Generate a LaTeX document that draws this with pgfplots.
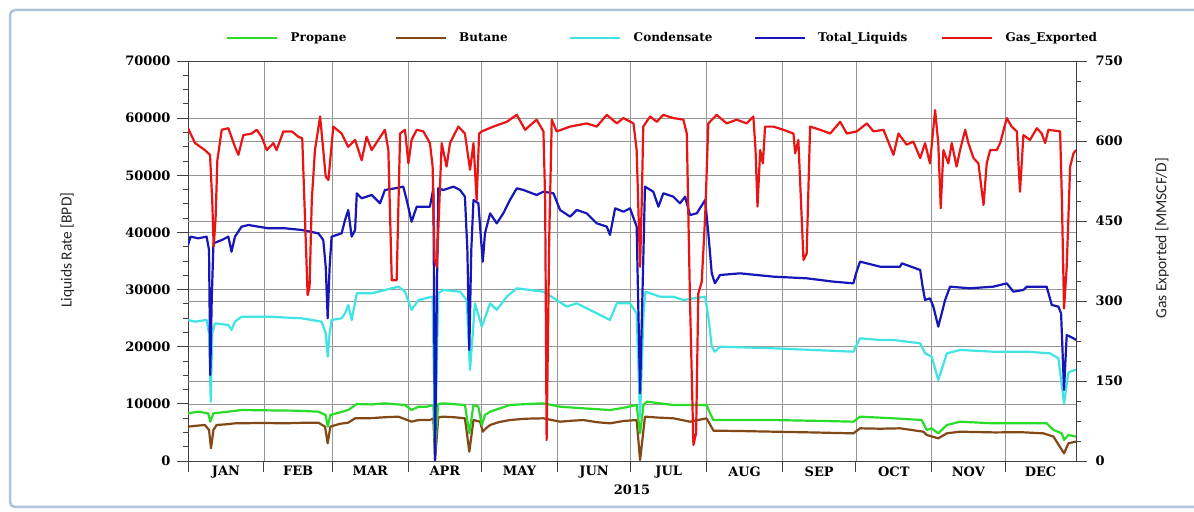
\documentclass[border=0pt]{standalone}
\usepackage{fontspec}
\usepackage{pgfplots}
\pgfplotsset{compat=1.18}
\newfontfamily\dvs{DejaVu Serif}
\newfontfamily\carl{Carlito}
\definecolor{cProp}{RGB}{40,220,40}
\definecolor{cBut}{RGB}{130,72,22}
\definecolor{cCond}{RGB}{64,228,228}
\definecolor{cTot}{RGB}{22,22,185}
\definecolor{cGas}{RGB}{235,20,20}
\definecolor{cFrame}{RGB}{175,195,218}
\definecolor{cGrid}{RGB}{150,150,150}
\newcommand\tickfont{\dvs\bfseries\fontsize{13bp}{15bp}\selectfont}
\newcommand\legfont{\dvs\bfseries\fontsize{12bp}{14bp}\selectfont}
\newcommand\labfont{\carl\fontsize{15.5bp}{18bp}\selectfont}
\begin{document}
\begin{tikzpicture}
\path[use as bounding box] (0,0) rectangle (1194bp,512bp);
\draw[cFrame, line width=2.5bp, rounded corners=5bp, fill=white] (10bp,5bp) rectangle (1215bp,502bp);
\pgfplotsset{
 base/.style={
  at={(188bp,51bp)}, anchor=south west,
  width=888bp, height=400bp, scale only axis,
  xmin=0, xmax=363,
  scaled ticks=false,
  /pgf/number format/assume math mode=true,
  /pgf/number format/1000 sep={},
  tick label style={font=\tickfont, black},
  tick align=outside,
  major tick length=11bp, minor tick length=5bp,
  grid style={cGrid, line width=0.6bp},
  axis line style={line width=0.8bp, black!75},
  every tick/.style={black!75, line width=0.8bp},
  every axis plot/.append style={line width=2.2bp, line join=round, mark=none},
 }
}
\begin{axis}[base,
  ymin=0, ymax=70000, ytick={0,10000,...,70000}, minor y tick num=3,
  ytick pos=left, xtick pos=bottom,
  xtick={0,31,59,90,120,151,181,212,243,273,304,334},
  xticklabels={},
  extra x ticks={15.5,45,74.5,105,135.5,166,196.5,227.5,258,288.5,319,348.5},
  extra x tick labels={JAN,FEB,MAR,APR,MAY,JUN,JUL,AUG,SEP,OCT,NOV,DEC},
  extra x tick style={major tick length=0pt, grid=none},
  extra y ticks={14000,28000,42000,56000},
  extra y tick labels={},
  extra y tick style={major tick length=0pt, grid=major, minor tick num=0},
  xticklabel style={yshift=-2bp},
  yticklabel style={xshift=-3bp},
  xmajorgrids, ymajorgrids,
  xlabel={2015}, xlabel style={font=\tickfont, at={(axis description cs:0.5,-0.0725)}, anchor=center},
  ylabel={Liquids Rate [BPD]}, ylabel style={font=\labfont, black!85, at={(axis description cs:-0.136,0.527)}, anchor=center},
]
\addplot[cBut] coordinates {(0,6010)(3,6150)(6.9,6300)(8.6,5430)(9.4,2220)(10.4,5430)(11.7,6300)(15,6400)(19.2,6590)(30,6650)(40,6600)(48,6700)(53.3,6710)(56,6010)(57.1,3100)(58.2,6010)(62,6500)(65.5,6710)(68.3,7470)(75,7500)(80,7650)(86,7760)(91.4,6880)(94.2,7170)(98.9,7170)(100.3,7470)(101,175)(102.3,7640)(104.4,7760)(109,7650)(113.2,7470)(115,1640)(116.7,7170)(119.4,6880)(120.5,5130)(121.8,5720)(123.5,6300)(127,6800)(131.6,7170)(138,7400)(145.3,7470)(152.1,6880)(157,7050)(161.6,7170)(167,6800)(172.5,6590)(178,7000)(183.4,7170)(184.8,175)(186.8,7760)(192,7600)(198.4,7470)(205.2,6880)(212,7470)(214.8,5310)(225,5250)(239.3,5130)(255,5000)(272,4840)(274.7,5720)(283,5650)(291.1,5720)(300.6,5130)(302,4550)(306.7,3970)(310.2,4840)(315.6,5130)(330,5000)(340,5050)(349.7,4840)(353.8,4260)(358.1,1340)(359.9,3100)(363,3390)};
\addplot[cProp] coordinates {(0,8340)(4.2,8630)(8.3,8340)(9.1,6880)(10.4,8340)(16.5,8630)(21.9,8920)(35,8850)(45,8800)(53.3,8630)(56.3,8050)(57.1,6010)(58.2,8050)(65.5,8920)(69,9970)(75,9900)(80.5,10090)(88.7,9800)(91.4,8920)(94.2,9500)(97.6,9500)(100.3,9800)(101,2510)(102.3,9970)(104.4,10090)(113.2,9800)(115,4840)(116.7,9800)(118.7,9500)(120.1,6300)(121.4,8050)(123.5,8630)(131.6,9800)(138.5,9970)(145.3,10090)(152.1,9500)(161.6,9220)(172.5,8920)(178,9300)(183.4,9800)(184.8,4840)(186.2,9800)(187.5,10380)(198.4,9800)(212,9800)(213.4,8340)(214.8,7170)(239.3,7170)(260,7000)(272,6880)(274.7,7760)(288.4,7470)(299.9,7170)(302,5430)(304,5720)(306.7,4840)(310.2,6300)(315.6,6880)(329.2,6590)(351,6590)(353.8,5430)(357.2,4840)(358.1,3680)(359.9,4550)(363,4260)};
\addplot[cCond] coordinates {(0,24680)(2.9,24390)(7.6,24680)(8.6,22340)(9.3,10380)(9.9,22340)(11,24090)(16.5,23800)(17.8,22930)(19.2,24390)(21.9,25260)(32.8,25260)(46.5,24970)(54.6,24390)(56.3,22340)(57.1,18260)(57.9,22340)(58.7,24680)(62.8,24970)(64.2,25840)(65.5,27300)(66.9,24680)(69,29340)(75.1,29340)(80.5,29930)(86,30510)(88.7,29630)(91.4,26430)(94.2,28180)(100,28760)(101,1340)(102.3,29340)(104.4,29930)(111.2,29630)(113.9,28180)(115.3,15930)(117.3,27590)(120.1,23510)(123.5,27590)(126.2,26430)(130.3,28760)(134.4,30220)(145.3,29630)(150.7,28180)(154.8,27010)(158.9,27590)(167.1,25840)(172.5,24680)(175.3,27590)(180.7,27590)(183.4,25840)(184.8,7760)(186.2,25840)(187,29630)(193,28760)(198.4,28760)(202.5,28180)(211.4,28760)(212.7,25260)(214.1,20010)(215.4,19130)(217.5,20010)(239.3,19720)(272,19130)(274.7,21470)(282.9,21180)(288.4,21180)(299.3,20600)(301.3,18840)(304,18260)(306.7,14180)(310.2,18840)(315.6,19430)(329.2,19130)(342.9,19130)(352.4,18840)(355.8,17970)(358.1,10090)(359.9,15500)(363,16000)};
\addplot[cTot] coordinates {(0,37800)(1,39260)(4.2,38970)(7.6,39260)(8.6,36930)(9.1,15050)(9.7,28180)(10.4,38090)(13.8,38670)(16.5,39260)(17.8,36630)(19.2,39260)(21.9,41010)(24.7,41300)(32.8,40720)(39.7,40720)(46.5,40430)(53.3,39840)(55.3,38670)(56.3,34010)(57.1,24970)(57.9,34010)(58.7,39260)(62.8,39840)(64.2,42180)(65.5,43930)(66.9,39260)(68.3,40430)(69,46840)(71,45970)(75.1,46550)(78.5,45090)(80.5,47430)(84.6,47720)(88,48010)(89.4,45680)(91.4,41880)(93.5,44510)(98.9,44510)(100.3,47720)(101,175)(101.7,28180)(102.3,47720)(104.4,47430)(108.5,48010)(111.2,47430)(113.2,46260)(114.2,36930)(115,19430)(115.8,36930)(116.7,45680)(118.7,45090)(119.6,39840)(120.5,34880)(121.4,39840)(123.5,43340)(126.2,41590)(128.9,43340)(131.6,45680)(134.4,47720)(137.1,47430)(142.5,46550)(145.3,47130)(149.4,46840)(152.1,43930)(156.2,42760)(158.9,43930)(163,43340)(167.1,41590)(171.2,41010)(172.5,39550)(174.6,44220)(178,43630)(180.7,44220)(183.4,41010)(184.8,11840)(186.2,36930)(186.8,48010)(190.2,47130)(192.3,44510)(194.3,46840)(198.4,46260)(201.1,45090)(203.2,46260)(205.2,43050)(208,43340)(211.4,45680)(212.7,39840)(214.1,32840)(215.4,31090)(217.5,32550)(225.7,32840)(232.5,32550)(239.3,32260)(252.9,31970)(263.8,31390)(272,31090)(273.1,32840)(274.7,34880)(282.9,34010)(291.1,34010)(291.8,34590)(299.3,33430)(300.3,30510)(301.3,28180)(303.3,28470)(304.7,27010)(306.7,23510)(309.5,28180)(311.5,30510)(319.7,30220)(329.2,30510)(334.7,31090)(337.4,29630)(341.5,29930)(342.9,30510)(351,30510)(353.1,27300)(355.8,27010)(356.9,25840)(358.1,12430)(359.2,22050)(362,21470)(363,21180)};
\end{axis}
\begin{axis}[base,
  ymin=0, ymax=750, ytick={0,150,...,750}, minor y tick num=3,
  axis y line*=right, axis x line=none,
  yticklabel style={xshift=5bp},
  ylabel={Gas Exported [MMSCF/D]}, ylabel style={font=\labfont, black!85, at={(axis description cs:1.0968,0.557)}, anchor=center},
  legend columns=5,
  legend style={at={(axis description cs:0.0428,1.0575)}, anchor=west, draw=none, fill=none, inner sep=0pt, font=\legfont,
    nodes={inner sep=0pt, anchor=west},
    /tikz/every odd column/.append style={column sep=12bp}},
  legend image code/.code={\draw[#1, line width=2.5bp] (0bp,0bp) -- (50bp,0bp);},
]
\addlegendimage{cProp}\addlegendentry{\makebox[104bp][l]{Propane}}
\addlegendimage{cBut}\addlegendentry{\makebox[110bp][l]{Butane}}
\addlegendimage{cCond}\addlegendentry{\makebox[120bp][l]{Condensate}}
\addlegendimage{cTot}\addlegendentry{\makebox[123bp][l]{Total\_Liquids}}
\addplot[cGas] coordinates {(0,624)(2.9,596)(6.9,583)(9,574)(9.9,489)(10.5,402)(11.3,458)(12,564)(13.8,621)(16.5,624)(19.2,589)(20.6,574)(22.6,611)(26,614)(28.1,621)(30.1,608)(32.2,583)(34.9,596)(36.2,583)(39,618)(42.4,618)(45.1,608)(46.7,605)(47.8,458)(48.9,311)(49.7,327)(50.6,489)(51.9,583)(54,646)(55.3,583)(56.3,533)(57.4,527)(59.4,627)(62.8,614)(65.5,589)(68.3,602)(71,564)(73,608)(75.1,583)(77.8,602)(80.5,621)(81.9,583)(83.3,339)(85.3,339)(86.7,614)(88.7,621)(90.1,558)(91.4,602)(93.5,621)(96.2,618)(98.9,596)(100,552)(100.8,377)(101.7,364)(102.8,489)(103.7,596)(105.7,552)(107.1,596)(110.5,627)(113.2,614)(115.3,546)(116.7,596)(118,489)(119,614)(120.1,618)(124.8,627)(130.3,636)(134.4,649)(137.8,621)(142.5,640)(145.3,618)(146,489)(146.6,39)(147.7,427)(148.7,640)(150.7,618)(156.2,627)(163,633)(167.1,627)(171.2,649)(175.3,633)(178,643)(182.1,633)(183.4,583)(184.8,364)(185.5,489)(186.1,627)(188.9,646)(191.6,636)(194.3,649)(198.4,643)(202.5,640)(203.9,614)(205.2,302)(206.6,30)(207.7,52)(208.6,314)(210,336)(211.4,458)(212.7,633)(216.1,649)(220.2,633)(224.3,640)(228.4,633)(231.1,646)(232,583)(232.8,477)(233.9,583)(235,558)(235.9,627)(239.3,627)(243.4,621)(247.5,614)(248.2,577)(249.5,602)(251.6,377)(252.9,389)(254.3,627)(258.4,621)(262.5,614)(266.6,636)(269.3,614)(273.4,618)(277.5,633)(280.2,618)(284.3,621)(288.4,574)(290.4,614)(293.8,593)(296.5,599)(299.3,568)(301.3,596)(303.3,558)(305.4,658)(306.7,596)(307.7,474)(308.8,583)(310.8,558)(312.2,596)(314.2,552)(315.6,583)(317.7,621)(319,596)(321.1,568)(323.1,558)(325.2,480)(326.5,558)(327.9,583)(330.6,583)(332,596)(334.7,643)(336.7,627)(338.8,618)(340.1,505)(341.5,611)(344.2,602)(347,624)(349,614)(350.4,596)(351.7,621)(356.5,618)(357.2,496)(358.1,286)(359.2,364)(360.6,552)(362,577)(363,583)};
\addlegendentry{Gas\_Exported}
\end{axis}
\end{tikzpicture}
\end{document}
